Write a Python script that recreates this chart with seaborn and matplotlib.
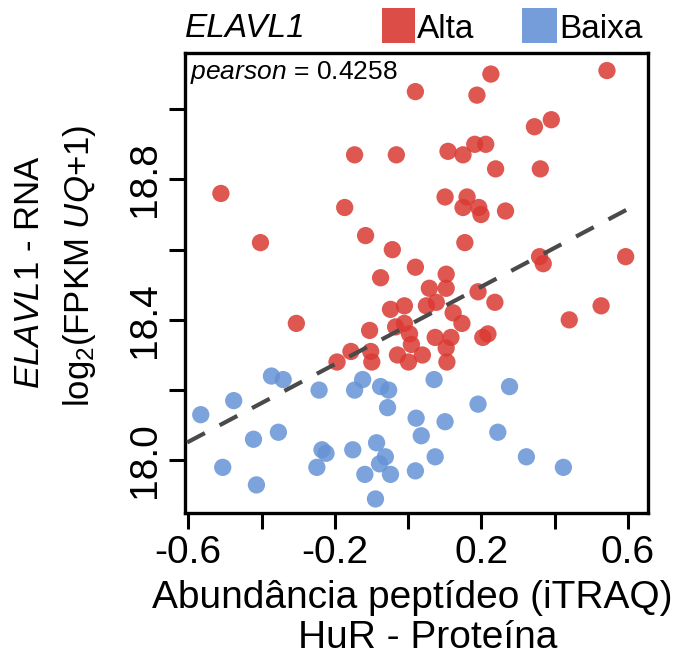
import numpy as np
import pandas as pd
import matplotlib
matplotlib.use("Agg")
import matplotlib.pyplot as plt
import seaborn as sns
from matplotlib.patches import Rectangle

# ---------------- data ----------------
alta_x = [0.020, 0.226, 0.188, 0.543, 0.345, 0.391, -0.146, -0.032, -0.511, -0.173,
          -0.116, -0.403, -0.043, 0.109, 0.150, 0.182, 0.212, 0.239, 0.361, 0.101,
          0.161, 0.150, 0.193, 0.199, 0.266, 0.155, 0.359, 0.369, 0.594, 0.020,
          -0.075, 0.104, 0.058, 0.104, 0.191, 0.237, 0.527, 0.440, -0.048, -0.010,
          0.050, 0.077, 0.123, 0.147, -0.034, -0.010, -0.105, 0.004, 0.009, 0.074,
          0.117, 0.204, 0.218, 0.104, 0.106, -0.156, -0.194, -0.102, -0.099, -0.029,
          0.001, 0.039, -0.305]
alta_y = [19.05, 19.10, 19.04, 19.11, 18.95, 18.97, 18.87, 18.87, 18.76, 18.72,
          18.64, 18.62, 18.60, 18.88, 18.87, 18.90, 18.90, 18.83, 18.83, 18.75,
          18.75, 18.72, 18.72, 18.70, 18.71, 18.62, 18.58, 18.56, 18.58, 18.55,
          18.52, 18.53, 18.49, 18.49, 18.48, 18.45, 18.44, 18.40, 18.43, 18.44,
          18.44, 18.45, 18.42, 18.39, 18.38, 18.39, 18.37, 18.36, 18.33, 18.35,
          18.35, 18.35, 18.36, 18.32, 18.28, 18.31, 18.28, 18.31, 18.28, 18.30,
          18.28, 18.30, 18.39]
baixa_x = [-0.373, -0.341, -0.124, -0.075, -0.053, -0.243, -0.146, -0.476, -0.566, -0.056,
           0.022, 0.036, -0.354, -0.422, -0.086, -0.235, -0.224, -0.151, -0.062, -0.078,
           -0.249, -0.506, -0.118, -0.048, 0.020, -0.414, -0.089, 0.071, 0.277, 0.191,
           0.101, 0.245, 0.074, 0.323, 0.424]
baixa_y = [18.24, 18.23, 18.23, 18.21, 18.20, 18.20, 18.20, 18.17, 18.13, 18.15,
           18.12, 18.07, 18.08, 18.06, 18.05, 18.03, 18.02, 18.03, 18.01, 17.99,
           17.98, 17.98, 17.96, 17.96, 17.97, 17.93, 17.89, 18.23, 18.21, 18.16,
           18.11, 18.08, 18.01, 18.01, 17.98]

groups = ["Alta", "Baixa"]
colors = {"Alta": "#DA3A33", "Baixa": "#6693D6"}

fit_x = [-0.603, 0.610]
fit_y = [18.051, 18.721]

pearson_r = 0.4258

x_ticks = [-0.6, -0.4, -0.2, 0.0, 0.2, 0.4, 0.6]
x_ticklabels = ["-0.6", "", "-0.2", "", "0.2", "", "0.6"]
y_ticks = [18.0, 18.2, 18.4, 18.6, 18.8, 19.0]
y_ticklabels = ["18.0", "", "18.4", "", "18.8", ""]

df = pd.DataFrame({
    "x": alta_x + baixa_x,
    "y": alta_y + baixa_y,
    "grupo": ["Alta"] * len(alta_x) + ["Baixa"] * len(baixa_x),
})

# ---------------- style ----------------
sns.set_theme(style="white")
plt.rcParams["font.family"] = ["Liberation Sans", "DejaVu Sans"]
plt.rcParams["text.color"] = "black"
plt.rcParams["mathtext.fontset"] = "custom"
plt.rcParams["mathtext.rm"] = "Liberation Sans"
plt.rcParams["mathtext.it"] = "Liberation Sans:italic"

W, H = 681, 655
fig = plt.figure(figsize=(W / 100, H / 100), dpi=100)
L, R, T, B = 185, 648, 53, 513
ax = fig.add_axes([L / W, 1 - B / H, (R - L) / W, (B - T) / H])

sns.scatterplot(data=df, x="x", y="y", hue="grupo", hue_order=groups,
                palette=colors, s=155, alpha=0.85, edgecolor="none",
                legend=False, ax=ax, zorder=2)
ax.plot(fit_x, fit_y, color="#4a4a4a", lw=3, ls=(0, (4.8, 4.0)), zorder=3)

ax.set_xlim(-0.609, 0.655)
ax.set_ylim(17.85, 19.16)
ax.set_xticks(x_ticks)
ax.set_xticklabels(x_ticklabels)
ax.set_yticks(y_ticks)
ax.set_yticklabels(y_ticklabels, rotation=90, va="center")
ax.set_xlabel("")
ax.set_ylabel("")
for sp in ax.spines.values():
    sp.set_visible(True)
    sp.set_color("black")
    sp.set_linewidth(2.4)
ax.tick_params(axis="both", direction="out", length=11.5, width=2.2,
               color="black", labelsize=28, labelcolor="black",
               bottom=True, left=True)
ax.tick_params(axis="x", pad=4)
ax.tick_params(axis="y", pad=4)

# pearson annotation
fig.text(190 / W, 1 - 79 / H, r"$\mathit{pearson}$ = " + f"{pearson_r:.4f}",
         fontsize=19, ha="left", va="baseline", color="black")

# axis labels
fig.text(412 / W, 1 - 608 / H, "Abundância peptídeo (iTRAQ)", fontsize=28,
         ha="center", va="baseline", color="black")
fig.text(428 / W, 1 - 648 / H, "HuR - Proteína", fontsize=28,
         ha="center", va="baseline", color="black")
fig.text(30 / W, 1 - 272 / H, r"$\mathit{ELAVL1}$ - RNA", fontsize=25,
         ha="center", va="center", rotation=90, color="black")
fig.text(80 / W, 1 - 266 / H, r"log$_2$(FPKM $\mathit{UQ}$+1)", fontsize=25,
         ha="center", va="center", rotation=90, color="black")

# top legend
fig.text(185 / W, 1 - 37 / H, "ELAVL1", style="italic", fontsize=24,
         ha="left", va="baseline", color="black")
for g, x0, x1 in [("Alta", 382, 415), ("Baixa", 522, 557)]:
    fig.patches.append(Rectangle((x0 / W, 1 - 43 / H), (x1 - x0) / W, 35 / H,
                                 transform=fig.transFigure, color=colors[g],
                                 alpha=0.9, lw=0))
    fig.text((x1 + 2) / W, 1 - 38 / H, g, fontsize=24, ha="left",
             va="baseline", color="black")

fig.savefig("out.png", dpi=100)
